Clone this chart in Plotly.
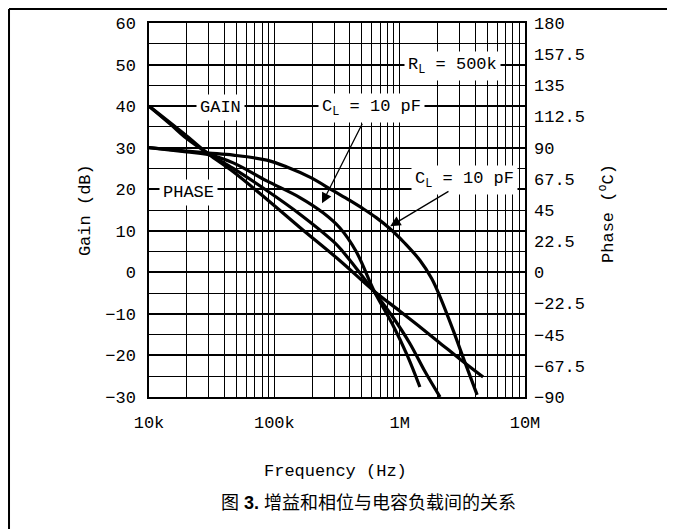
import math
import plotly.graph_objects as go

# ---- axis ticks ----
freq_ticks = [1e4, 1e5, 1e6, 1e7]
freq_tick_labels = ["10k", "100k", "1M", "10M"]
freq_minor = [m * 10 ** d for d in (4, 5, 6) for m in range(2, 10)]
gain_ticks = [-30, -20, -10, 0, 10, 20, 30, 40, 50, 60]
gain_tick_labels = ["\u221230", "\u221220", "\u221210", "0", "10", "20", "30", "40", "50", "60"]
phase_ticks = [-90, -67.5, -45, -22.5, 0, 22.5, 45, 67.5, 90, 112.5, 135, 157.5, 180]
phase_tick_labels = ["\u221290", "\u221267.5", "\u221245", "\u221222.5", "0", "22.5", "45",
                     "67.5", "90", "112.5", "135", "157.5", "180"]

# ---- gain curves (dB) ----
gain1_freq = [1e4, 2e4, 3e4, 4.7e4, 8.7e4, 1.6e5, 3.34e5, 6.3e5, 1e6, 2e6, 3e6, 4.63e6]
gain1_db = [40, 32.8, 28.4, 24.2, 17.6, 10.8, 2.8, -4.6, -9.3, -16.5, -20.8, -25.2]

gain2_freq = [1e4, 1.5e4, 2e4, 3e4, 4.7e4, 8.7e4, 1.6e5, 2.94e5, 3.34e5, 4.5e5, 6.3e5,
              8.7e5, 1.2e6, 1.6e6, 2.1e6]
gain2_db = [40, 35.5, 32.2, 28.5, 25.0, 19.7, 14.0, 7.5, 5.8, 1.0, -4.8,
            -10.5, -17.0, -24.0, -30.0]

# ---- phase curves (degrees) ----
phase1_freq = [1e4, 1.5e4, 2e4, 3e4, 4.7e4, 8.7e4, 1.26e5, 1.92e5, 2.94e5, 4e5, 5e5,
               6.5e5, 8.38e5, 1.1e6, 1.45e6, 1.8e6, 2.1e6, 2.67e6, 3.2e6, 4.15e6]
phase1_deg = [90, 88.5, 87.5, 86.1, 84.6, 81, 76, 68.7, 59, 52, 46.5,
              39.5, 31.5, 21, 8.7, -4.5, -17.7, -41.7, -61.2, -88.5]

phase2_freq = [1e4, 2e4, 3e4, 4.7e4, 8.7e4, 1.6e5, 2.45e5, 3.34e5, 4.5e5, 6.3e5,
               8.7e5, 1.15e6, 1.45e6]
phase2_deg = [90, 87, 85, 79, 66, 54, 43, 32, 15, -14, -37, -60, -82.8]

# ---- labels ----
label_texts = ["GAIN", "PHASE", "C<sub>L</sub> = 10 pF", "R<sub>L</sub> = 500k", "C<sub>L</sub> = 10 pF"]
label_freq = [3.69e4, 2.08e4, 5.92e5, 2.62e6, 3.27e6]
label_gain = [39.6, 19.2, 39.6, 49.6, 22.2]
arrow_head_freq = [2.4e5, 8.4e5]
arrow_head_gain = [16.6, 11.1]
arrow_tail_freq = [5.1e5, 2.52e6]
arrow_tail_gain = [36.1, 19.7]

MONO = "Liberation Mono"
fig = go.Figure()
for fx, gy in [(gain1_freq, gain1_db), (gain2_freq, gain2_db)]:
    fig.add_trace(go.Scatter(x=fx, y=gy, mode="lines", line=dict(color="black", width=3.2),
                             line_shape="spline", showlegend=False, hoverinfo="skip"))
for fx, py in [(phase1_freq, phase1_deg), (phase2_freq, phase2_deg)]:
    fig.add_trace(go.Scatter(x=fx, y=py, mode="lines", yaxis="y2",
                             line=dict(color="black", width=3.2),
                             line_shape="spline", showlegend=False, hoverinfo="skip"))

fig.update_layout(
    width=667, height=521,
    margin=dict(l=141, r=150, t=15, b=132, pad=0, autoexpand=False),
    paper_bgcolor="white", plot_bgcolor="white",
    font=dict(family=MONO, size=16, color="black"),
    xaxis=dict(type="log", range=[4, 7], tickvals=freq_ticks, ticktext=freq_tick_labels,
               automargin=False,
               showgrid=True, gridcolor="black", gridwidth=1.3,
               minor=dict(tickvals=freq_minor, showgrid=True, gridcolor="black", gridwidth=1.3, ticks=""),
               showline=True, linecolor="black", linewidth=1.5, mirror=True,
               ticks="", ticklabelstandoff=9, tickfont=dict(family=MONO, size=17),
               zeroline=False),
    yaxis=dict(range=[-30, 60], tickvals=gain_ticks, ticktext=gain_tick_labels,
               automargin=False,
               showgrid=True, gridcolor="black", gridwidth=1.5,
               minor=dict(dtick=5, tick0=0, showgrid=True, gridcolor="black", gridwidth=1.2, ticks=""),
               zeroline=True, zerolinecolor="black", zerolinewidth=2,
               showline=True, linecolor="black", linewidth=1.5, mirror=True,
               ticks="", ticklabelstandoff=8, tickfont=dict(family=MONO, size=17)),
    yaxis2=dict(range=[-90, 180], overlaying="y", side="right", tickvals=phase_ticks,
                automargin=False,
                ticktext=phase_tick_labels, showgrid=False, zeroline=False,
                ticks="", ticklabelstandoff=8, tickfont=dict(family=MONO, size=17)),
)

for t, f, g in zip(label_texts, label_freq, label_gain):
    fig.add_annotation(x=math.log10(f), y=g, xref="x", yref="y", text=t, showarrow=False,
                       bgcolor="white", borderpad=3, font=dict(family=MONO, size=17))
for hf, hg, tf, tg in zip(arrow_head_freq, arrow_head_gain, arrow_tail_freq, arrow_tail_gain):
    fig.add_annotation(x=math.log10(hf), y=hg, xref="x", yref="y", text="",
                       showarrow=True, ax=math.log10(tf), ay=tg, axref="x", ayref="y",
                       arrowhead=2, arrowsize=1.6, arrowwidth=1.3, arrowcolor="black")

fig.add_annotation(x=-0.17, y=0.5, xref="paper", yref="paper", text="Gain (dB)",
                   xanchor="center", yanchor="middle",
                   textangle=-90, showarrow=False, font=dict(family=MONO, size=17))
fig.add_annotation(x=1.218, y=0.492, xref="paper", yref="paper", text="Phase (<sup>o</sup>C)",
                   xanchor="center", yanchor="middle",
                   textangle=-90, showarrow=False, font=dict(family=MONO, size=17))
fig.add_annotation(x=0.497, y=-0.2005, xref="paper", yref="paper", text="Frequency (Hz)",
                   xanchor="center", yanchor="middle",
                   showarrow=False, font=dict(family=MONO, size=17))
fig.add_annotation(x=0.585, y=-0.2834, xref="paper", yref="paper",
                   text="图 <b>3.</b> 增益和相位与电容负载间的关系", showarrow=False,
                   xanchor="center", yanchor="middle",
                   font=dict(family="Liberation Sans, Noto Sans CJK SC", size=18))

# outer frame of the figure cell
fig.add_shape(type="line", xref="paper", yref="paper", x0=-0.3723, x1=1.5, y0=1.0374, y1=1.0374,
              line=dict(color="black", width=2))
fig.add_shape(type="line", xref="paper", yref="paper", x0=-0.3723, x1=-0.3723, y0=1.0374, y1=-0.4,
              line=dict(color="black", width=2))

fig.write_html("out.html")
